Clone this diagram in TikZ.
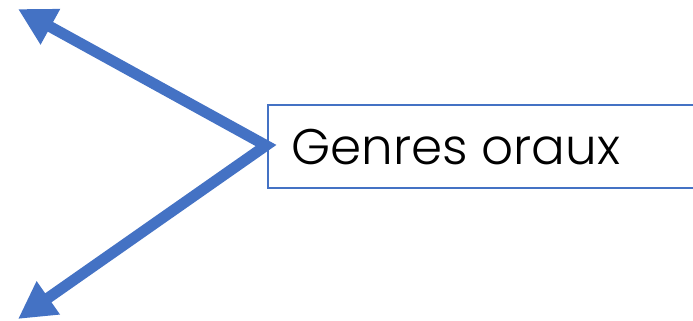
\documentclass[tikz,border=0pt]{standalone}
\usepackage{fontspec}
\setmainfont{Poppins}[UprightFont=* Light]
\usetikzlibrary{arrows.meta}
\definecolor{accent}{HTML}{4472C4}
\tikzset{
  framebox/.style={draw=accent, line width=1.8pt, minimum width=433pt, minimum height=83pt, inner sep=0pt, anchor=north west},
  labeltext/.style={font=\fontsize{50}{60}\selectfont, text=black, inner sep=0pt, anchor=base west},
  bigarrow/.style={draw=accent, line width=11pt, line join=miter, {Triangle[length=37pt,width=38pt]}-{Triangle[length=37pt,width=38pt]}}
}
\begin{document}
\begin{tikzpicture}[x=1pt,y=1pt]
\useasboundingbox (0,0) rectangle (693,321);
\node[framebox] (box) at (267,217) {};
\node[labeltext] (label) at (291,156) {Genres oraux};
\coordinate (tipA) at (18,312);
\coordinate (tipB) at (18,2);
\coordinate (join) at (266,175.5);
\draw[bigarrow] (tipA) -- (join) -- (tipB);
\end{tikzpicture}
\end{document}
